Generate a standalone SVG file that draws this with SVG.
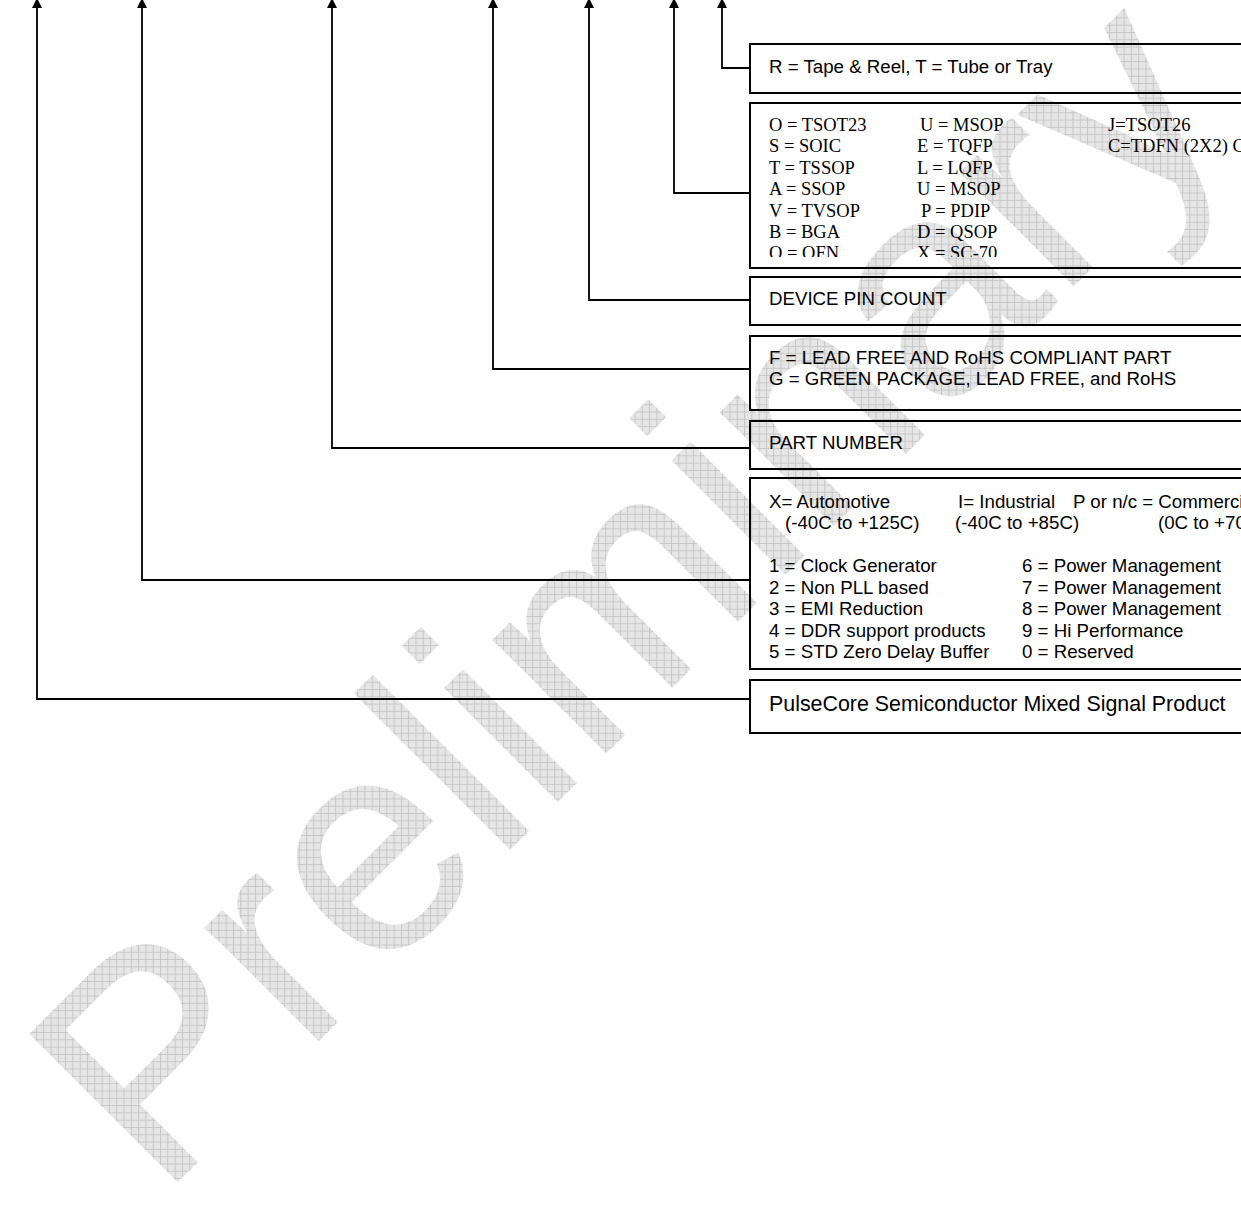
<svg xmlns="http://www.w3.org/2000/svg" width="1241" height="1205" viewBox="0 0 1241 1205">
<defs>
  <pattern id="grid" patternUnits="userSpaceOnUse" width="7.3" height="7.3" patternTransform="rotate(45)">
    <rect width="7.3" height="7.3" fill="#e6e6e6"/>
    <path d="M0 0.5H7.3M0.5 0V7.3" stroke="#c6c6c6" stroke-width="1" fill="none"/>
  </pattern>
  <marker id="arr" viewBox="0 0 10 10" refX="9" refY="5" markerWidth="10" markerHeight="10" markerUnits="userSpaceOnUse" orient="auto">
    <path d="M0 0L10 5L0 10Z" fill="#000"/>
  </marker>
  <clipPath id="pkgclip"><rect x="752" y="104" width="489" height="153"/></clipPath>
</defs>
<style>
  .box { fill: none; stroke: #000; stroke-width: 2; }
  .conn { fill: none; stroke: #000; stroke-width: 1.8; }
  .sans { font-family: "Liberation Sans", Arial, sans-serif; font-size: 18.7px; fill: #000; }
  .serif { font-family: "Liberation Serif", "Times New Roman", serif; font-size: 18.5px; fill: #000; }
  .big { font-size: 21.4px; }
</style>
<rect width="1241" height="1205" fill="#fff"/>
<g id="watermark">
  <text transform="translate(160,1200) rotate(-45)" font-family="Liberation Sans, Arial, sans-serif" font-size="305" fill="url(#grid)">Preliminary</text>
</g>
<g id="connectors">
  <path class="conn" marker-end="url(#arr)" d="M750 699H37V-1"/>
  <path class="conn" marker-end="url(#arr)" d="M750 580H142V-1"/>
  <path class="conn" marker-end="url(#arr)" d="M750 448H332V-1"/>
  <path class="conn" marker-end="url(#arr)" d="M750 369H493V-1"/>
  <path class="conn" marker-end="url(#arr)" d="M750 300H589V-1"/>
  <path class="conn" marker-end="url(#arr)" d="M750 193H674V-1"/>
  <path class="conn" marker-end="url(#arr)" d="M750 68H722V-1"/>
</g>
<g id="node-packing">
  <rect class="box" x="750" y="44" width="520" height="49"/>
  <text class="sans" x="769" y="72.5">R = Tape &amp; Reel, T = Tube or Tray</text>
</g>
<g id="node-package">
  <rect class="box" x="750" y="103" width="520" height="165"/>
  <g clip-path="url(#pkgclip)">
    <text class="serif" x="769" y="131">O = TSOT23</text>
    <text class="serif" x="769" y="152.4">S = SOIC</text>
    <text class="serif" x="769" y="173.8">T = TSSOP</text>
    <text class="serif" x="769" y="195.2">A = SSOP</text>
    <text class="serif" x="769" y="216.6">V = TVSOP</text>
    <text class="serif" x="769" y="238">B = BGA</text>
    <text class="serif" x="769" y="259.4">O = QFN</text>
    <text class="serif" x="920" y="131">U = MSOP</text>
    <text class="serif" x="917" y="152.4">E = TQFP</text>
    <text class="serif" x="917" y="173.8">L = LQFP</text>
    <text class="serif" x="917" y="195.2">U = MSOP</text>
    <text class="serif" x="921" y="216.6">P = PDIP</text>
    <text class="serif" x="917" y="238">D = QSOP</text>
    <text class="serif" x="917" y="259.4">X = SC-70</text>
    <text class="serif" x="1108" y="131">J=TSOT26</text>
    <text class="serif" x="1108" y="152.4">C=TDFN (2X2) C</text>
  </g>
</g>
<g id="node-pincount">
  <rect class="box" x="750" y="277" width="520" height="48"/>
  <text class="sans" x="769" y="304.5">DEVICE PIN COUNT</text>
</g>
<g id="node-leadfree">
  <rect class="box" x="750" y="336" width="520" height="74"/>
  <text class="sans" x="769" y="363.5">F = LEAD FREE AND RoHS COMPLIANT PART</text>
  <text class="sans" x="769" y="384.5">G = GREEN PACKAGE, LEAD FREE, and RoHS</text>
</g>
<g id="node-partnumber">
  <rect class="box" x="750" y="421" width="520" height="48"/>
  <text class="sans" x="769" y="448.5">PART NUMBER</text>
</g>
<g id="node-grade">
  <rect class="box" x="750" y="478" width="520" height="191"/>
  <text class="sans" x="769" y="507.5">X= Automotive</text>
  <text class="sans" x="958" y="507.5">I= Industrial</text>
  <text class="sans" x="1073" y="507.5">P or n/c = Commercial</text>
  <text class="sans" x="785" y="528.5">(-40C to +125C)</text>
  <text class="sans" x="955" y="528.5">(-40C to +85C)</text>
  <text class="sans" x="1158" y="528.5">(0C to +70C)</text>
  <text class="sans" x="769" y="572">1 = Clock Generator</text>
  <text class="sans" x="769" y="593.5">2 = Non PLL based</text>
  <text class="sans" x="769" y="615">3 = EMI Reduction</text>
  <text class="sans" x="769" y="636.5">4 = DDR support products</text>
  <text class="sans" x="769" y="658">5 = STD Zero Delay Buffer</text>
  <text class="sans" x="1022" y="572">6 = Power Management</text>
  <text class="sans" x="1022" y="593.5">7 = Power Management</text>
  <text class="sans" x="1022" y="615">8 = Power Management</text>
  <text class="sans" x="1022" y="636.5">9 = Hi Performance</text>
  <text class="sans" x="1022" y="658">0 = Reserved</text>
</g>
<g id="node-pulsecore">
  <rect class="box" x="750" y="680" width="520" height="53"/>
  <text class="sans big" x="769" y="710.5">PulseCore Semiconductor Mixed Signal Product</text>
</g>
</svg>
